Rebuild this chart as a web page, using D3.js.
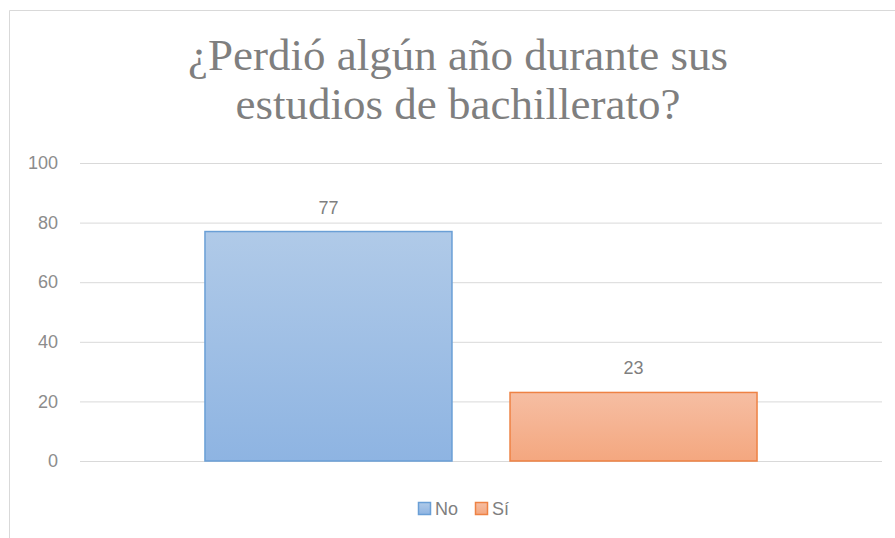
<!DOCTYPE html>
<html lang="es">
<head>
    <meta charset="UTF-8">
    <script src="https://cdn.jsdelivr.net/npm/d3@7/dist/d3.min.js"></script>
    <title>Perdió algún año</title>
    <style>
        body { margin: 0; background: #fff; }
    </style>
</head>
<body>
</body>
<script>

    // datos
    let series = ["No", "Sí"],
        values = [77, 23],
        yTicks = [0, 20, 40, 60, 80, 100],
        titleLines = ["¿Perdió algún año durante sus", "estudios de bachillerato?"]

    let fills = [["#b0cae8", "#8eb4e2"], ["#f6bea3", "#f4a77f"]],
        strokes = ["#6a9fd6", "#ee8244"]

    let width = 895,
        height = 538,
        plotLeft = 80,
        plotRight = 882,
        plotTop = 163,
        plotBottom = 461

    let x = d3.scaleBand()
        .domain(series)
        .range([plotLeft, plotRight])
        .paddingInner(0.187)
        .paddingOuter(0.408)

    let y = d3.scaleLinear()
        .domain([0, 100])
        .range([plotBottom, plotTop])

    let svg = d3.select("body")
        .append("svg")
        .attr("width", width)
        .attr("height", height)

    // borde del área del gráfico
    svg.append("path")
        .attr("d", "M9.5,538 V10.5 H895")
        .attr("fill", "none")
        .attr("stroke", "#d9d9d9")
        .attr("stroke-width", 1)

    // degradados de las barras
    let defs = svg.append("defs")
    fills.forEach(function (f, i) {
        let g = defs.append("linearGradient")
            .attr("id", "grad" + i)
            .attr("x1", 0).attr("y1", 0)
            .attr("x2", 0).attr("y2", 1)
        g.append("stop").attr("offset", "0%").attr("stop-color", f[0])
        g.append("stop").attr("offset", "100%").attr("stop-color", f[1])
    })

    // título
    svg.append("g").selectAll("text")
        .data(titleLines)
        .enter()
        .append("text")
        .attr("x", 458)
        .attr("y", (d, i) => 70 + i * 49)
        .attr("text-anchor", "middle")
        .attr("font-family", "'Liberation Serif', 'Times New Roman', serif")
        .attr("font-size", 45)
        .attr("fill", "#7f7f7f")
        .text(d => d)

    // eje y con líneas de cuadrícula
    let yAxis = d3.axisLeft(y)
        .tickValues(yTicks)
        .tickSize(-(plotRight - plotLeft))
        .tickPadding(22)

    let gy = svg.append("g")
        .attr("transform", "translate(" + plotLeft + ",0)")
        .call(yAxis)

    gy.select(".domain").remove()
    gy.selectAll(".tick line")
        .attr("stroke", "#d9d9d9")
        .attr("stroke-width", 1)
    gy.selectAll(".tick text")
        .attr("font-family", "'Liberation Sans', Arial, sans-serif")
        .attr("font-size", 18)
        .attr("fill", "#8c8c8c")

    // barras
    svg.append("g").selectAll("rect")
        .data(values)
        .enter()
        .append("rect")
        .attr("x", (d, i) => x(series[i]) + 0.5)
        .attr("y", d => y(d))
        .attr("width", x.bandwidth() - 1)
        .attr("height", d => y(0) - y(d))
        .attr("fill", (d, i) => "url(#grad" + i + ")")
        .attr("stroke", (d, i) => strokes[i])
        .attr("stroke-width", 1.5)

    // etiquetas de datos
    svg.append("g").selectAll("text")
        .data(values)
        .enter()
        .append("text")
        .attr("x", (d, i) => x(series[i]) + x.bandwidth() / 2)
        .attr("y", d => y(d) - 18)
        .attr("text-anchor", "middle")
        .attr("font-family", "'Liberation Sans', Arial, sans-serif")
        .attr("font-size", 18)
        .attr("fill", "#7f7f7f")
        .text(d => d)

    // leyenda
    let legendX = [418, 475]
    let legend = svg.append("g").selectAll("g")
        .data(series)
        .enter()
        .append("g")
        .attr("transform", (d, i) => "translate(" + legendX[i] + ",502)")

    legend.append("rect")
        .attr("x", 0.5).attr("y", 0.5)
        .attr("width", 12).attr("height", 12)
        .attr("fill", (d, i) => "url(#grad" + i + ")")
        .attr("stroke", (d, i) => strokes[i])
        .attr("stroke-width", 1.5)

    legend.append("text")
        .attr("x", 17)
        .attr("y", 13)
        .attr("font-family", "'Liberation Sans', Arial, sans-serif")
        .attr("font-size", 18)
        .attr("fill", "#7f7f7f")
        .text(d => d)

</script>
</html>
